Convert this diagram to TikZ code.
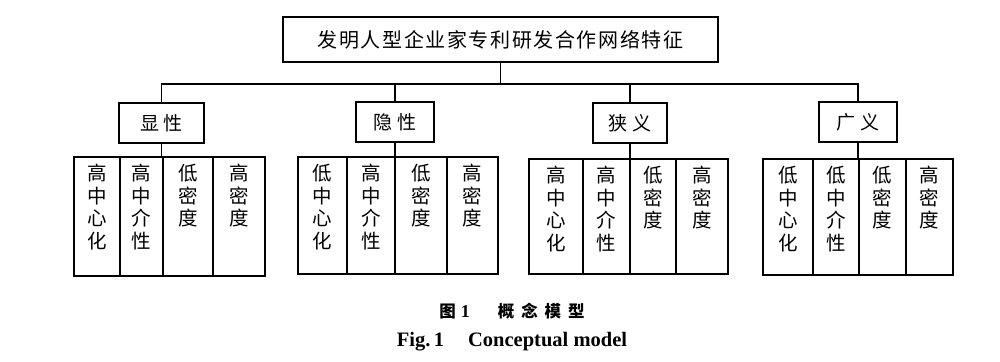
\documentclass[tikz,border=0pt]{standalone}
\usepackage{fontspec}
\setmainfont{Liberation Serif}
\newfontfamily\cjk{Noto Sans CJK SC}
\newfontfamily\cjkls[LetterSpace=8]{Noto Sans CJK SC}
\begin{document}
\begin{tikzpicture}[x=1pt,y=-1pt,
  box/.style={draw, line width=1.7pt, inner sep=0pt},
  colbox/.style={draw, line width=1.7pt, inner sep=0pt, anchor=north west},
  coltext/.style={anchor=north, inner sep=0pt, align=center, font=\cjk\fontsize{19.5}{22.5}\selectfont},
  grp/.style={box, minimum width=80pt, minimum height=40pt, font=\cjk\fontsize{19}{22}\selectfont},
  conn/.style={line width=1.5pt}]
\useasboundingbox (0,0) rectangle (1000,361);

\node[box, minimum width=435pt, minimum height=45pt, font=\cjkls\fontsize{20}{24}\selectfont] (top) at (500.5,39.5) {发明人型企业家专利研发合作网络特征};

\node[grp, minimum width=85pt] (g1) at (161.5,123) {显\hspace{5pt}性};
\node[grp, minimum width=78pt] (g2) at (395,122) {隐\hspace{5pt}性};
\node[grp, minimum width=74pt] (g3) at (630,123) {狭\hspace{5pt}义};
\node[grp, minimum width=78pt] (g4) at (858,122) {广\hspace{5pt}义};

\coordinate (bus) at (0,84);

% group 1
\node[colbox, minimum width=46pt, minimum height=119pt] (a1) at (73,156) {};
\node[colbox, minimum width=43pt, minimum height=119pt] (a2) at (119,156) {};
\node[colbox, minimum width=50pt, minimum height=119pt] (a3) at (162,156) {};
\node[colbox, minimum width=52pt, minimum height=119pt] (a4) at (212,156) {};
% group 2
\node[colbox, minimum width=49pt, minimum height=117pt] (b1) at (297,156) {};
\node[colbox, minimum width=48pt, minimum height=117pt] (b2) at (346,156) {};
\node[colbox, minimum width=52pt, minimum height=117pt] (b3) at (394,156) {};
\node[colbox, minimum width=51pt, minimum height=117pt] (b4) at (446,156) {};
% group 3
\node[colbox, minimum width=54pt, minimum height=115pt] (c1) at (528,158) {};
\node[colbox, minimum width=47pt, minimum height=115pt] (c2) at (582,158) {};
\node[colbox, minimum width=46pt, minimum height=115pt] (c3) at (629,158) {};
\node[colbox, minimum width=52pt, minimum height=115pt] (c4) at (675,158) {};
% group 4
\node[colbox, minimum width=50pt, minimum height=116pt] (d1) at (762,158) {};
\node[colbox, minimum width=46pt, minimum height=116pt] (d2) at (812,158) {};
\node[colbox, minimum width=47pt, minimum height=116pt] (d3) at (858,158) {};
\node[colbox, minimum width=47pt, minimum height=116pt] (d4) at (905,158) {};

% texts
\foreach \n/\t in {a1/{高\\中\\心\\化}, a2/{高\\中\\介\\性}, a3/{低\\密\\度}, a4/{高\\密\\度},
                   b1/{低\\中\\心\\化}, b2/{高\\中\\介\\性}, b3/{低\\密\\度}, b4/{高\\密\\度},
                   c1/{高\\中\\心\\化}, c2/{高\\中\\介\\性}, c3/{低\\密\\度}, c4/{高\\密\\度},
                   d1/{低\\中\\心\\化}, d2/{低\\中\\介\\性}, d3/{低\\密\\度}, d4/{高\\密\\度}}
  \node[coltext] (t\n) at ([yshift=-8pt]\n.north) {\t};

% connectors
\draw[conn] (top.south) -- (top.south |- bus);
\draw[conn] (g1.north) -- (g1.north |- bus) -- (g4.north |- bus) -- (g4.north);
\draw[conn] (g2.north) -- (g2.north |- bus);
\draw[conn] (g3.north) -- (g3.north |- bus);
\draw[conn] (g1.south) -- (g1.south |- a1.north);
\draw[conn] (g2.south) -- (g2.south |- b1.north);
\draw[conn] (g3.south) -- (g3.south |- c1.north);
\draw[conn] (g4.south) -- (g4.south |- d1.north);

% caption
\node[font=\cjk\bfseries\fontsize{16.5}{18}\selectfont, inner sep=0pt] (cap1) at (512,311) {图\hspace{5pt}{\rmfamily\bfseries\fontsize{18}{20}\selectfont 1}\hspace{28pt}概\hspace{7pt}念\hspace{7pt}模\hspace{7pt}型};
\node[font=\bfseries\fontsize{20.5}{23}\selectfont, inner sep=0pt] (cap2) at (512,342) {Fig.\,1\hspace{24pt}Conceptual model};
\end{tikzpicture}
\end{document}
